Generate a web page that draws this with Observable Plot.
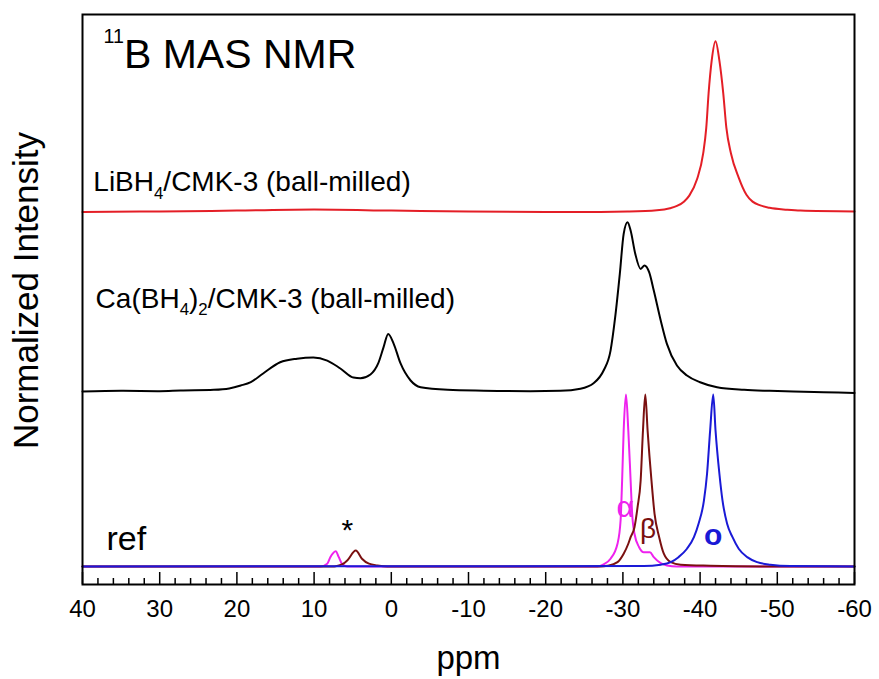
<!DOCTYPE html>
<html><head><meta charset="utf-8">
<script src="https://cdn.jsdelivr.net/npm/d3@7"></script>
<script src="https://cdn.jsdelivr.net/npm/@observablehq/plot@0.6"></script>
<style>body{margin:0;background:#fff} svg{display:block}</style>
</head><body><div id="chart"></div>
<script>
// ---- axis ticks ----
const ppmAxisTicks = [40, 30, 20, 10, 0, -10, -20, -30, -40, -50, -60];
const ppmAxisLabels = ["40", "30", "20", "10", "0", "-10", "-20", "-30", "-40", "-50", "-60"];
const ppmMinorTicks = [38, 36, 34, 32, 28, 26, 24, 22, 18, 16, 14, 12, 8, 6, 4, 2,
  -2, -4, -6, -8, -12, -14, -16, -18, -22, -24, -26, -28, -32, -34, -36, -38,
  -42, -44, -46, -48, -52, -54, -56, -58];

// ---- vertical offsets of stacked spectra (normalized intensity units) ----
const offsetLi = 2.166;
const offsetCa = 1.122;
const offsetRef = 0.105;

// ---- LiBH4/CMK-3 (ball-milled), red ----
const liPpm = [40, 30, 20, 10, 0, -10, -20, -27.1, -30.6, -34.4, -36.1, -37.0, -37.9, -38.6, -39.6, -40.4, -40.8, -41.1, -41.5, -42.0, -42.5, -43.0, -43.4, -44.0, -45.0, -46.0, -46.8, -47.8, -49.0, -51.3, -53.0, -60];
const liInt = [0, 0.003, 0.008, 0.014, 0.008, 0.002, 0, 0, 0.002, 0.010, 0.022, 0.035, 0.060, 0.095, 0.19, 0.34, 0.49, 0.69, 0.88, 0.993, 0.88, 0.69, 0.49, 0.34, 0.20, 0.10, 0.06, 0.038, 0.024, 0.013, 0.008, 0.003];

// ---- Ca(BH4)2/CMK-3 (ball-milled), black ----
const caPpm = [40, 35, 30, 27.3, 23.0, 21.0, 19.5, 18.2, 16.6, 14.4, 12.2, 10.1, 8.3, 6.6, 4.9, 4.0, 2.7, 1.7, 1.0, 0.4, -0.3, -1.2, -2.5, -3.8, -7.3, -12, -18.0, -21.9, -24.5, -26.2, -27.5, -28.4, -29.0, -29.6, -30.1, -30.6, -31.0, -31.6, -32.3, -32.8, -33.4, -34.0, -34.9, -35.7, -37.0, -38.3, -40.0, -42.2, -45.7, -49, -52.1, -56, -60];
const caInt = [0, 0.004, 0.002, 0.006, 0.010, 0.018, 0.035, 0.055, 0.105, 0.170, 0.191, 0.198, 0.180, 0.134, 0.081, 0.077, 0.099, 0.163, 0.258, 0.335, 0.279, 0.163, 0.064, 0.025, 0.010, 0.005, 0.002, 0.004, 0.016, 0.048, 0.122, 0.238, 0.432, 0.684, 0.917, 0.984, 0.936, 0.801, 0.713, 0.733, 0.694, 0.587, 0.413, 0.277, 0.151, 0.093, 0.054, 0.025, 0.010, 0.004, 0.0, -0.004, -0.008];

// ---- reference alpha-Ca(BH4)2, magenta ----
const alphaPpm = [40, 9.2, 8.3, 7.9, 7.2, 6.8, 6.4, 5.7, -26.7, -27.5, -28.4, -29.3, -29.7, -29.9, -30.1, -30.4, -30.7, -31.0, -31.2, -31.5, -32.1, -32.7, -33.5, -34.0, -34.9, -35.7, -37.0, -60];
const alphaInt = [0, 0, 0.016, 0.054, 0.089, 0.054, 0.016, 0, 0, 0.012, 0.045, 0.132, 0.267, 0.5, 0.79, 1.0, 0.79, 0.5, 0.306, 0.19, 0.112, 0.083, 0.083, 0.054, 0.019, 0.006, 0, 0];

// ---- reference beta-Ca(BH4)2, brown ----
const betaPpm = [40, 7.4, 6.8, 6.2, 5.7, 4.6, 3.8, 2.9, 1.8, 0.5, -27.1, -28.0, -29.3, -30.1, -30.7, -31.0, -31.5, -31.9, -32.3, -32.6, -32.9, -33.2, -33.7, -34.1, -34.7, -35.3, -36.2, -37.5, -41.3, -47.8, -60];
const betaInt = [0, 0, 0.006, 0.016, 0.035, 0.093, 0.045, 0.016, 0.006, 0, 0, 0.004, 0.025, 0.074, 0.132, 0.170, 0.228, 0.345, 0.5, 0.79, 1.0, 0.79, 0.5, 0.306, 0.17, 0.074, 0.025, 0.010, 0.004, 0, 0];

// ---- reference o-LiBH4, blue ----
const oPpm = [40, -32.7, -34.9, -36.2, -37.2, -38.3, -39.2, -39.8, -40.5, -40.9, -41.3, -41.7, -42.0, -42.5, -42.9, -43.5, -44.2, -45.0, -46.1, -47.4, -49.1, -51.7, -60];
const oInt = [0, 0.002, 0.010, 0.025, 0.054, 0.103, 0.170, 0.248, 0.384, 0.539, 0.79, 1.0, 0.79, 0.539, 0.384, 0.248, 0.170, 0.103, 0.054, 0.025, 0.010, 0.002, 0];

const table = (xs, ys, off) => xs.map((x, i) => ({ppm: x, v: ys[i] + off}));

const font = "'Liberation Sans', Arial, Helvetica, sans-serif";
const lineOpts = {x: "ppm", y: "v", strokeWidth: 2, curve: "monotone-x"};

const chart = Plot.plot({
  width: 879, height: 679,
  marginLeft: 82, marginRight: 25, marginTop: 14, marginBottom: 95,
  style: {fontFamily: font, background: "white", color: "black"},
  x: {domain: [40, -60], axis: null},
  y: {domain: [0, 3.314], axis: null},
  marks: [
    Plot.line(table(liPpm, liInt, offsetLi), {...lineOpts, stroke: "#e41e26"}),
    Plot.line(table(caPpm, caInt, offsetCa), {...lineOpts, stroke: "#000000"}),
    Plot.line(table(alphaPpm, alphaInt, offsetRef), {...lineOpts, stroke: "#ee22ee"}),
    Plot.line(table(betaPpm, betaInt, offsetRef), {...lineOpts, stroke: "#7a1010"}),
    Plot.line(table(oPpm, oInt, offsetRef), {...lineOpts, stroke: "#1a1ad6"}),
    Plot.frame({stroke: "black", strokeWidth: 2}),
    Plot.tickX(ppmAxisTicks, {x: d => d, insetTop: 558, stroke: "black", strokeWidth: 1.5}),
    Plot.tickX(ppmMinorTicks, {x: d => d, insetTop: 564, stroke: "black", strokeWidth: 1.5}),
    Plot.axisX({ticks: ppmAxisTicks, tickSize: 0, tickPadding: 15, fontSize: 24, label: null,
      tickFormat: d => ppmAxisLabels[ppmAxisTicks.indexOf(d)]}),
    Plot.text(["ppm"], {frameAnchor: "bottom", dy: 84, fontSize: 33, fill: "black"}),
    Plot.text(["Normalized Intensity"], {frameAnchor: "left", textAnchor: "middle", rotate: -90, dx: -56, dy: -9, fontSize: 35, fill: "black"}),
    Plot.text(["^{11}B MAS NMR"], {frameAnchor: "top-left", textAnchor: "start", lineAnchor: "bottom", dx: 21, dy: 53, fontSize: 41, fill: "black"}),
    Plot.text(["LiBH_{4}/CMK-3 (ball-milled)"], {x: () => 38.6, y: () => 2.285, textAnchor: "start", lineAnchor: "bottom", fontSize: 28, fill: "black"}),
    Plot.text(["Ca(BH_{4})_{2}/CMK-3 (ball-milled)"], {x: () => 38.3, y: () => 1.610, textAnchor: "start", lineAnchor: "bottom", fontSize: 28, fill: "black"}),
    Plot.text(["ref"], {x: () => 36.9, y: () => 0.198, textAnchor: "start", lineAnchor: "bottom", fontSize: 34, fill: "black"}),
    Plot.text(["*"], {x: () => 5.7, y: () => 0.26, lineAnchor: "bottom", fontSize: 30, fill: "black"}),
    Plot.text(["α"], {x: () => -30.3, y: () => 0.39, lineAnchor: "bottom", fontSize: 30, fill: "#ee22ee"}),
    Plot.text(["β"], {x: () => -33.25, y: () => 0.273, lineAnchor: "bottom", fontSize: 28, fill: "#7a1010"}),
    Plot.text(["o"], {x: () => -41.7, y: () => 0.227, lineAnchor: "bottom", fontSize: 30, fontWeight: "bold", fill: "#1a1ad6"})
  ]
});
document.getElementById("chart").appendChild(chart);

// sub/superscript markup -> tspans
chart.querySelectorAll("text").forEach(t => {
  const s = t.textContent;
  if (!/[_^]\{/.test(s)) return;
  const base = parseFloat(getComputedStyle(t).fontSize);
  const parts = [];
  const re = /([_^])\{([^}]*)\}/g;
  let last = 0, m;
  while ((m = re.exec(s))) {
    if (m.index > last) parts.push({t: s.slice(last, m.index), k: ""});
    parts.push({t: m[2], k: m[1]});
    last = re.lastIndex;
  }
  if (last < s.length) parts.push({t: s.slice(last), k: ""});
  t.textContent = "";
  let cur = 0;
  for (const p of parts) {
    const target = p.k === "_" ? 0.28 * base : p.k === "^" ? -0.6 * base : 0;
    const ts = document.createElementNS("http://www.w3.org/2000/svg", "tspan");
    if (target !== cur) ts.setAttribute("dy", target - cur);
    if (p.k) ts.setAttribute("font-size", (p.k === "^" ? 0.48 : 0.6) * base);
    ts.textContent = p.t;
    t.appendChild(ts);
    cur = target;
  }
});
</script>
</body></html>
